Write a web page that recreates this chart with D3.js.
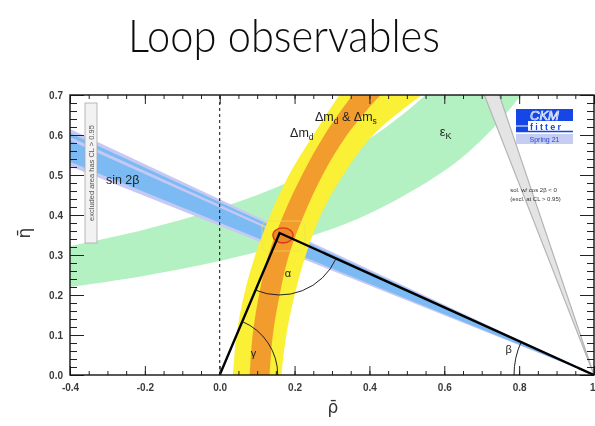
<!DOCTYPE html>
<html>
<head>
<meta charset="utf-8">
<script src="https://cdn.jsdelivr.net/npm/d3@7"></script>
<style>
  html, body { margin: 0; padding: 0; background: #ffffff; }
  svg { display: block; }
</style>
</head>
<body>
<svg id="chart" width="595" height="426"></svg>
<script>
// ---- data (rho-bar, eta-bar) ----
const xMajorTicks = [-0.4, -0.2, 0.0, 0.2, 0.4, 0.6, 0.8, 1.0];
const xTickLabels = ["-0.4", "-0.2", "0.0", "0.2", "0.4", "0.6", "0.8", "1"];
const yMajorTicks = [0.0, 0.1, 0.2, 0.3, 0.4, 0.5, 0.6, 0.7];
const yTickLabels = ["0.0", "0.1", "0.2", "0.3", "0.4", "0.5", "0.6", "0.7"];

// unitarity triangle apex
const apex = [0.16, 0.355];

// sin 2beta wedge from (1,0): eta of each edge at rho = -0.4
const sin2bOuter = [0.615, 0.522];
const sin2bInner = [0.605, 0.533];
const sin2bStripe = [0.595, 0.586];

// cos 2beta < 0 excluded wedge from (1,0): rho of each edge at eta = 0.7
const cos2bTop = [0.707, 0.747];

// epsilon_K band edges
const epsKUpper = [[-0.45, 0.3135], [-0.4, 0.3223], [-0.2, 0.3637], [0.0, 0.4172], [0.2, 0.489], [0.4, 0.5907], [0.55, 0.70], [0.65, 0.798]];
const epsKLower = [[-0.45, 0.214], [-0.4, 0.22], [-0.2, 0.2483], [0.0, 0.2849], [0.2, 0.3341], [0.4, 0.404], [0.6, 0.5107], [0.7, 0.5884], [0.805, 0.70], [0.9, 0.846]];

// Delta m_d band edges
const dmdLeft = [[0.03, -0.05], [0.035, 0.0], [0.045, 0.1], [0.065, 0.2], [0.095, 0.3], [0.135, 0.4], [0.185, 0.5], [0.25, 0.6], [0.32, 0.7], [0.36, 0.75]];
const dmdRight = [[0.163, -0.05], [0.165, 0.0], [0.178, 0.1], [0.2, 0.2], [0.23, 0.3], [0.27, 0.4], [0.33, 0.5], [0.41, 0.6], [0.54, 0.7], [0.62, 0.75]];

// Delta m_d & Delta m_s band edges
const dmsLeft = [[0.077, -0.05], [0.08, 0.0], [0.088, 0.1], [0.105, 0.2], [0.13, 0.3], [0.17, 0.4], [0.22, 0.5], [0.28, 0.6], [0.355, 0.7], [0.4, 0.75]];
const dmsRight = [[0.13, -0.05], [0.133, 0.0], [0.142, 0.1], [0.16, 0.2], [0.185, 0.3], [0.225, 0.4], [0.275, 0.5], [0.34, 0.6], [0.43, 0.7], [0.49, 0.75]];

// global fit contour around the apex (rho range, eta range)
const fit95 = [[0.113, 0.228], [0.31, 0.385]];
const fit68 = [[0.142, 0.196], [0.33, 0.368]];

// ---- layout ----
const svg = d3.select("#chart");
const plotL = 70, plotR = 594, plotT = 95, plotB = 375;
const x = d3.scaleLinear().domain([-0.4, 1.0]).range([plotL, plotR]);
const y = d3.scaleLinear().domain([0.0, 0.7]).range([plotB, plotT]);

const defs = svg.append("defs");
defs.append("clipPath").attr("id", "plotClip")
  .append("rect").attr("x", plotL).attr("y", plotT).attr("width", plotR - plotL).attr("height", plotB - plotT);
defs.append("filter").attr("id", "soft").attr("x", "-5%").attr("y", "-5%").attr("width", "110%").attr("height", "110%")
  .append("feGaussianBlur").attr("stdDeviation", 0.45);

const root = svg.append("g").attr("filter", "url(#soft)");

// title
root.append("text")
  .attr("x", 284).attr("y", 52)
  .attr("text-anchor", "middle")
  .attr("font-family", "Lato, 'Open Sans', sans-serif")
  .attr("font-weight", 300)
  .attr("font-size", 46)
  .attr("textLength", 312).attr("lengthAdjust", "spacingAndGlyphs")
  .attr("fill", "#111")
  .text("Loop observables");

const plot = root.append("g").attr("clip-path", "url(#plotClip)");

const edge = d3.line().x(d => x(d[0])).y(d => y(d[1])).curve(d3.curveCatmullRom.alpha(0.5));
function band(a, b) {
  return edge(a) + edge(b.slice().reverse()).replace(/^M/, "L") + "Z";
}
const straight = d3.line().x(d => x(d[0])).y(d => y(d[1]));

// wedge from (1,0) through eta values given at rho=-0.4, extended past the frame
function wedge(etas) {
  const far = -0.5, s = (1 - far) / 1.4;
  return straight([[1, 0], [far, etas[0] * s], [far, etas[1] * s]]) + "Z";
}

// epsilon_K
plot.append("path").attr("d", band(epsKUpper, epsKLower)).attr("fill", "#b3f0c2");

// sin 2beta
plot.append("path").attr("d", wedge(sin2bOuter)).attr("fill", "#c6c9f3");
plot.append("path").attr("d", wedge(sin2bInner)).attr("fill", "#7cbaf3");
plot.append("path").attr("d", wedge(sin2bStripe)).attr("fill", "#c6c9f3");

// Delta m_d, then Delta m_d & Delta m_s
plot.append("path").attr("d", band(dmdLeft, dmdRight)).attr("fill", "#faf035");
plot.append("path").attr("d", band(dmsLeft, dmsRight)).attr("fill", "#f29c2e");

// cos 2beta wedge
{
  const topEta = 0.8;
  const pts = cos2bTop.map(r => [1 - (1 - r) * topEta / 0.7, topEta]);
  plot.append("path").attr("d", straight([[1, 0], pts[0], pts[1]]) + "Z")
    .attr("fill", "#e4e4e4").attr("stroke", "#b4b4b4").attr("stroke-width", 1.2);
}

// global fit contours
plot.append("rect")
  .attr("x", x(fit95[0][0])).attr("y", y(fit95[1][1]))
  .attr("width", x(fit95[0][1]) - x(fit95[0][0])).attr("height", y(fit95[1][0]) - y(fit95[1][1]))
  .attr("rx", 6).attr("fill", "none").attr("stroke", "#e8e060").attr("stroke-width", 0.8).attr("opacity", 0.8);
plot.append("ellipse")
  .attr("cx", x((fit68[0][0] + fit68[0][1]) / 2)).attr("cy", y((fit68[1][0] + fit68[1][1]) / 2))
  .attr("rx", (x(fit68[0][1]) - x(fit68[0][0])) / 2).attr("ry", (y(fit68[1][0]) - y(fit68[1][1])) / 2)
  .attr("fill", "#ea8a26").attr("stroke", "#e0301c").attr("stroke-width", 1.3);

// rho = 0 dashed line
plot.append("line")
  .attr("x1", x(0)).attr("x2", x(0)).attr("y1", y(0)).attr("y2", y(0.7))
  .attr("stroke", "#111").attr("stroke-width", 1).attr("stroke-dasharray", "3,3");

// unitarity triangle
plot.append("path")
  .attr("d", straight([[0, 0], apex, [1, 0]]))
  .attr("fill", "none").attr("stroke", "#000").attr("stroke-width", 2.4).attr("stroke-linejoin", "miter");

// angle arcs (pixel space)
function angleArc(vertex, toA, toB, r) {
  const vx = x(vertex[0]), vy = y(vertex[1]);
  const a1 = Math.atan2(y(toA[1]) - vy, x(toA[0]) - vx);
  const a2 = Math.atan2(y(toB[1]) - vy, x(toB[0]) - vx);
  const p1 = [vx + r * Math.cos(a1), vy + r * Math.sin(a1)];
  const p2 = [vx + r * Math.cos(a2), vy + r * Math.sin(a2)];
  let d = a2 - a1; while (d < 0) d += 2 * Math.PI;
  const large = d > Math.PI ? 1 : 0;
  return `M${p1[0]},${p1[1]}A${r},${r} 0 ${large} 1 ${p2[0]},${p2[1]}`;
}
const arcs = plot.append("g").attr("fill", "none").attr("stroke", "#222").attr("stroke-width", 1);
arcs.append("path").attr("d", angleArc(apex, [1, 0], [0, 0], 62));
arcs.append("path").attr("d", angleArc([0, 0], apex, [1, 0], 58));
arcs.append("path").attr("d", angleArc([1, 0], [0, 0], apex, 80));

// labels inside the plot
const lbl = plot.append("g").attr("font-family", "'Liberation Sans', Arial, sans-serif").attr("fill", "#222");
lbl.append("text").attr("x", x(-0.304)).attr("y", y(0.4775)).attr("font-size", 12.5).text("sin 2β");

const dm2 = lbl.append("text").attr("x", x(0.2546)).attr("y", y(0.636)).attr("font-size", 12.5);
dm2.append("tspan").text("Δm");
dm2.append("tspan").attr("font-size", 8.5).attr("dy", 3).text("d");
dm2.append("tspan").attr("dy", -3).text(" & Δm");
dm2.append("tspan").attr("font-size", 8.5).attr("dy", 3).text("s");

const dm1 = lbl.append("text").attr("x", x(0.188)).attr("y", y(0.594)).attr("font-size", 12.5);
dm1.append("tspan").text("Δm");
dm1.append("tspan").attr("font-size", 8.5).attr("dy", 3).text("d");

const ek = lbl.append("text").attr("x", x(0.588)).attr("y", y(0.597)).attr("font-size", 13);
ek.append("tspan").text("ε");
ek.append("tspan").attr("font-size", 9).attr("dy", 3).text("K");

lbl.append("text").attr("x", x(0.182)).attr("y", y(0.245)).attr("text-anchor", "middle").attr("font-size", 11).text("α");
lbl.append("text").attr("x", x(0.09)).attr("y", y(0.045)).attr("text-anchor", "middle").attr("font-size", 11).text("γ");
lbl.append("text").attr("x", x(0.772)).attr("y", y(0.055)).attr("text-anchor", "middle").attr("font-size", 11).text("β");

const sol = lbl.append("g").attr("font-size", 6).attr("fill", "#333");
sol.append("text").attr("x", x(0.776)).attr("y", y(0.457)).text("sol. w/ cos 2β < 0");
sol.append("text").attr("x", x(0.776)).attr("y", y(0.435)).text("(excl. at CL > 0.95)");

// excluded-area note (vertical)
{
  const g = plot.append("g");
  const bx = 85, bw = 12, by = y(0.68), bh = y(0.33) - y(0.68);
  g.append("rect").attr("x", bx).attr("y", by).attr("width", bw).attr("height", bh)
    .attr("fill", "#f2f2f2").attr("stroke", "#a8a8a8").attr("stroke-width", 0.8);
  g.append("text")
    .attr("transform", `translate(${bx + bw / 2 + 2.5},${by + bh / 2}) rotate(-90)`)
    .attr("text-anchor", "middle")
    .attr("font-family", "'Liberation Sans', Arial, sans-serif")
    .attr("font-size", 7.5).attr("fill", "#555")
    .text("excluded area has CL > 0.95");
}

// axes
const axes = root.append("g").attr("font-family", "'Liberation Sans', Arial, sans-serif");
const xMinor = d3.range(-0.4, 1.0001, 0.05);
const yMinor = d3.range(0, 0.7001, 0.02);

function styleAxis(g) {
  g.select(".domain").remove();
  g.selectAll(".tick line").attr("stroke", "#222").attr("stroke-width", 1);
  g.selectAll(".tick text").attr("fill", "#3a3a3a").attr("font-weight", "bold").attr("font-size", 10);
}
axes.append("g").attr("transform", `translate(0,${plotB})`)
  .call(d3.axisBottom(x).tickValues(xMinor).tickSize(-4).tickFormat("")).call(styleAxis);
const xAxisG = axes.append("g").attr("transform", `translate(0,${plotB})`)
  .call(d3.axisBottom(x).tickValues(xMajorTicks).tickSize(-9).tickPadding(9)
    .tickFormat((d, i) => xTickLabels[i])).call(styleAxis);
// last label sits on the frame edge: right-align it so it stays inside the page
xAxisG.selectAll(".tick text").filter(d => d === 1.0).attr("text-anchor", "end").attr("dx", 1);

axes.append("g").attr("transform", `translate(0,${plotT})`)
  .call(d3.axisTop(x).tickValues(xMinor).tickSize(-4).tickFormat("")).call(styleAxis);
axes.append("g").attr("transform", `translate(0,${plotT})`)
  .call(d3.axisTop(x).tickValues(xMajorTicks).tickSize(-9).tickFormat("")).call(styleAxis);

axes.append("g").attr("transform", `translate(${plotL},0)`)
  .call(d3.axisLeft(y).tickValues(yMinor).tickSize(-7).tickFormat("")).call(styleAxis);
axes.append("g").attr("transform", `translate(${plotL},0)`)
  .call(d3.axisLeft(y).tickValues(yMajorTicks).tickSize(-14).tickPadding(7)
    .tickFormat((d, i) => yTickLabels[i])).call(styleAxis);
axes.append("g").attr("transform", `translate(${plotR},0)`)
  .call(d3.axisRight(y).tickValues(yMinor).tickSize(-7).tickFormat("")).call(styleAxis);
axes.append("g").attr("transform", `translate(${plotR},0)`)
  .call(d3.axisRight(y).tickValues(yMajorTicks).tickSize(-14).tickFormat("")).call(styleAxis);

axes.append("rect").attr("x", plotL).attr("y", plotT).attr("width", plotR - plotL).attr("height", plotB - plotT)
  .attr("fill", "none").attr("stroke", "#111").attr("stroke-width", 1.4);

// axis titles
axes.append("text").attr("x", (plotL + plotR) / 2 + 1).attr("y", 413)
  .attr("text-anchor", "middle").attr("font-size", 17).attr("fill", "#333")
  .attr("font-family", "'DejaVu Sans', sans-serif").text("ρ\u0304");
axes.append("text").attr("transform", "translate(30,233) rotate(-90)")
  .attr("text-anchor", "middle").attr("font-size", 17).attr("fill", "#333")
  .attr("font-family", "'DejaVu Sans', sans-serif").text("η\u0304");

// CKMfitter badge
{
  const g = root.append("g").attr("font-family", "'Liberation Sans', Arial, sans-serif");
  const bx = 516, bw = 57;
  g.append("rect").attr("x", bx).attr("y", 109).attr("width", bw).attr("height", 12).attr("fill", "#1446e6");
  g.append("text").attr("x", bx + bw / 2).attr("y", 120).attr("text-anchor", "middle")
    .attr("font-size", 13).attr("font-style", "italic").attr("fill", "#3b6cf2")
    .attr("stroke", "#ffffff").attr("stroke-width", 0.7).text("CKM");
  g.append("rect").attr("x", bx).attr("y", 121).attr("width", bw).attr("height", 10).attr("fill", "#ffffff");
  g.append("rect").attr("x", bx).attr("y", 121).attr("width", 12).attr("height", 10).attr("fill", "#1446e6");
  g.append("line").attr("x1", bx).attr("x2", bx + 12).attr("y1", 126).attr("y2", 126).attr("stroke", "#fff").attr("stroke-width", 1);
  g.append("text").attr("x", bx + 14).attr("y", 130).attr("font-size", 9).attr("font-weight", "bold")
    .attr("letter-spacing", 2.2).attr("fill", "#1446e6").text("fitter");
  g.append("line").attr("x1", bx).attr("x2", bx + bw).attr("y1", 131.5).attr("y2", 131.5).attr("stroke", "#1446e6").attr("stroke-width", 1.6);
  g.append("rect").attr("x", bx).attr("y", 134).attr("width", bw).attr("height", 10).attr("fill", "#c5cdf2");
  g.append("text").attr("x", bx + bw / 2).attr("y", 142).attr("text-anchor", "middle")
    .attr("font-size", 7).attr("fill", "#2a4ad0").text("Spring 21");
}
</script>
</body>
</html>
